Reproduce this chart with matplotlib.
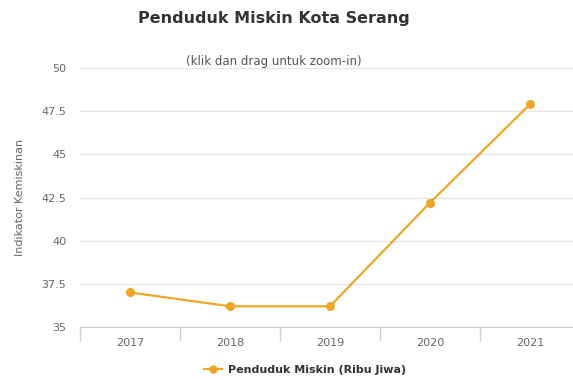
import numpy as np
import matplotlib.pyplot as plt

# data
tahun = ['2017', '2018', '2019', '2020', '2021']
miskin = [37.0, 36.2, 36.2, 42.2, 47.9]
y_ticks = [35, 37.5, 40, 42.5, 45, 47.5, 50]
y_labels = ['35', '37.5', '40', '42.5', '45', '47.5', '50']

oranye = '#eea629'
abu = '#666666'

fig = plt.figure(figsize=(5.73, 3.8), dpi=100)
# plot area runs past the right edge (the reference is cropped)
ax = fig.add_axes([80 / 573, 53 / 380, 500 / 573, 259 / 380])

x = np.arange(len(tahun))
ax.plot(x, miskin, color=oranye, lw=1.6, marker='o', ms=5.5, zorder=3, clip_on=False,
        label='Penduduk Miskin (Ribu Jiwa)')

ax.set_xlim(-0.5, len(tahun) - 0.5)
ax.set_ylim(35, 50)
ax.set_yticks(y_ticks)
ax.set_yticklabels(y_labels)
ax.set_xticks(x)
ax.set_xticklabels(tahun)
ax.set_xticks(np.arange(-0.5, len(tahun), 1), minor=True)

ax.grid(axis='y', color='#e6e6e6', lw=1)
ax.set_axisbelow(True)
for s in ['top', 'right', 'left']:
    ax.spines[s].set_visible(False)
ax.spines['bottom'].set_color('#d0d0d0')
ax.tick_params(axis='y', length=0, pad=10, labelsize=8, labelcolor=abu)
ax.tick_params(axis='x', which='major', length=0, pad=8, labelsize=8, labelcolor=abu)
ax.tick_params(axis='x', which='minor', length=10, color='#d0d0d0', width=1)

ax.set_ylabel('Indikator Kemiskinan', fontsize=8, color=abu, labelpad=12)

fig.text(274 / 573, 1 - 18 / 380, 'Penduduk Miskin Kota Serang', ha='center', va='center',
         fontsize=11.5, fontweight='bold', color='#333333')
fig.text(274 / 573, 1 - 62 / 380, '(klik dan drag untuk zoom-in)', ha='center', va='center',
         fontsize=8.5, color='#555555')

leg = fig.legend(loc='center', bbox_to_anchor=(305 / 573, 1 - 370 / 380), frameon=False,
                 fontsize=8, handlelength=1.6, handletextpad=0.5, markerscale=0.9)
for t in leg.get_texts():
    t.set_fontweight('bold')
    t.set_color('#333333')

fig.savefig('out.png', dpi=100)
